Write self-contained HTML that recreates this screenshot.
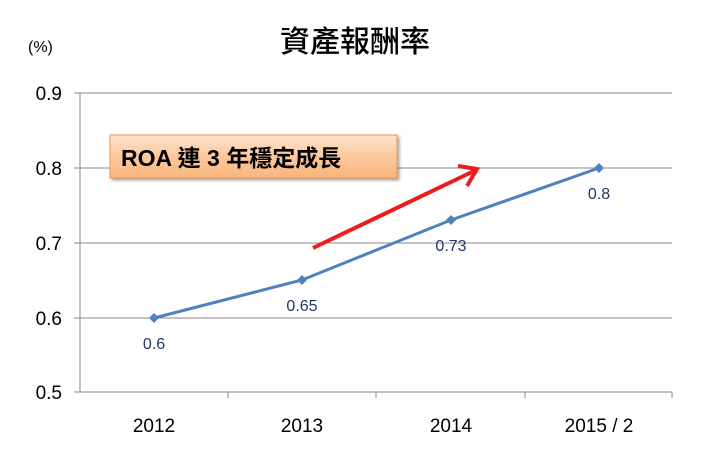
<!DOCTYPE html>
<html><head><meta charset="utf-8"><style>
body{margin:0;background:#fff;width:722px;height:461px;overflow:hidden}
</style></head><body>
<svg width="722" height="461" xmlns="http://www.w3.org/2000/svg" font-family="Liberation Sans, 'Noto Sans CJK TC', sans-serif">
<defs>
<linearGradient id="g" x1="0" y1="0" x2="0" y2="1">
<stop offset="0" stop-color="#fde3cf"/><stop offset="0.5" stop-color="#fcc89c"/><stop offset="1" stop-color="#f9b57c"/>
</linearGradient>
<filter id="sh"><feDropShadow dx="2" dy="2" stdDeviation="1.5" flood-opacity="0.35"/></filter>
</defs>
<text x="355" y="52" font-size="30" font-weight="500" text-anchor="middle" font-family="'Noto Sans CJK TC', sans-serif">資產報酬率</text>
<text x="28" y="52" font-size="16">(%)</text>
<g stroke="#888" stroke-width="1">
<line x1="80" y1="93" x2="672" y2="93"/>
<line x1="80" y1="168" x2="672" y2="168"/>
<line x1="80" y1="243" x2="672" y2="243"/>
<line x1="80" y1="318" x2="672" y2="318"/>
<line x1="80" y1="392" x2="672" y2="392"/>
<line x1="80" y1="93" x2="80" y2="392"/>
<line x1="74" y1="93" x2="80" y2="93"/><line x1="74" y1="168" x2="80" y2="168"/><line x1="74" y1="243" x2="80" y2="243"/><line x1="74" y1="318" x2="80" y2="318"/><line x1="74" y1="392" x2="80" y2="392"/>
<line x1="228" y1="392" x2="228" y2="398"/><line x1="376" y1="392" x2="376" y2="398"/><line x1="525" y1="392" x2="525" y2="398"/><line x1="672" y1="392" x2="672" y2="398"/>
</g>
<g font-size="19" text-anchor="end">
<text x="62" y="100">0.9</text><text x="62" y="175">0.8</text><text x="62" y="250">0.7</text><text x="62" y="325">0.6</text><text x="62" y="399">0.5</text>
</g>
<g font-size="19" text-anchor="middle">
<text x="154" y="432">2012</text><text x="302" y="432">2013</text><text x="451" y="432">2014</text><text x="599" y="432">2015 / 2</text>
</g>
<polyline points="154,318 302,280 451,220 599,168" fill="none" stroke="#4f81bd" stroke-width="3"/>
<g fill="#4f81bd">
<path d="M154,313 l5,5 l-5,5 l-5,-5z"/><path d="M302,275 l5,5 l-5,5 l-5,-5z"/><path d="M451,215 l5,5 l-5,5 l-5,-5z"/><path d="M599,163 l5,5 l-5,5 l-5,-5z"/>
</g>
<g font-size="16" fill="#1f3864" text-anchor="middle">
<text x="154" y="349">0.6</text><text x="302" y="311">0.65</text><text x="451" y="251">0.73</text><text x="599" y="199">0.8</text>
</g>
<rect x="110" y="135" width="287" height="43" fill="url(#g)" stroke="#f79646" stroke-width="1" filter="url(#sh)"/>
<text x="121" y="166" font-size="23" font-weight="bold" font-family="Liberation Sans, 'Noto Sans CJK TC', sans-serif">ROA 連 3 年穩定成長</text>
<line x1="313" y1="248" x2="474" y2="171" stroke="#ee1c1c" stroke-width="4"/>
<polyline points="458,166 477,169 467,186" fill="none" stroke="#ee1c1c" stroke-width="4"/>
</svg>
</body></html>
